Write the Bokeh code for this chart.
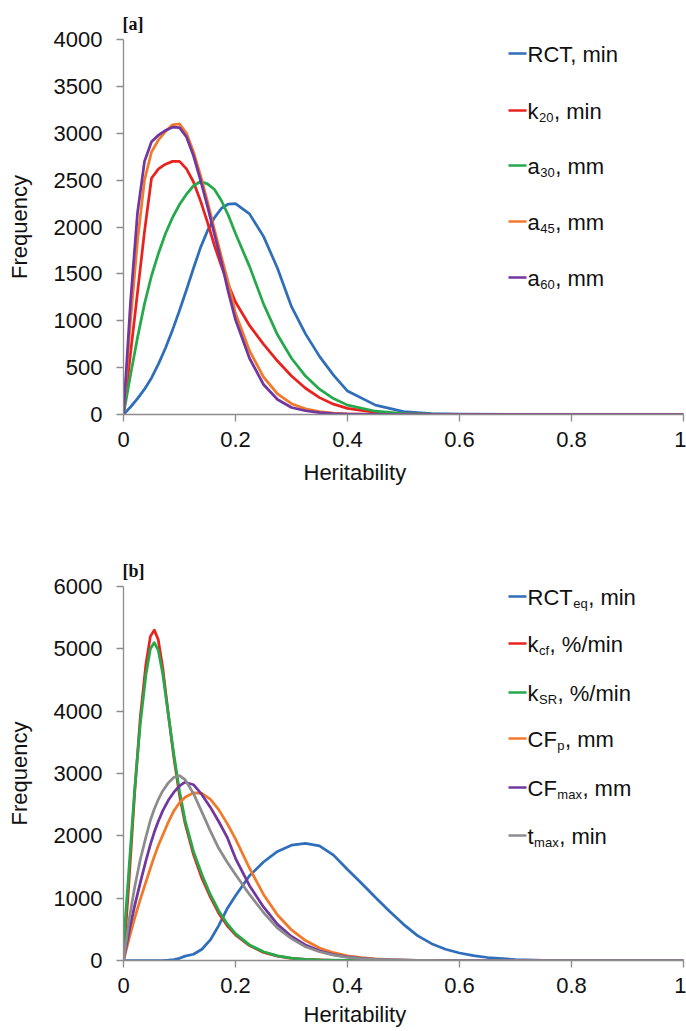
from bokeh.plotting import figure
from bokeh.models import Range1d, FixedTicker, CustomJSTickFormatter, Title, Label
from bokeh.layouts import column
from bokeh.embed import file_html
from bokeh.resources import INLINE

FONT = "Liberation Sans"

# ---------------- data: panel [a] ----------------
H_A = [0, 0.0125, 0.025, 0.0375, 0.05, 0.0625, 0.075, 0.0875, 0.1, 0.1125, 0.125, 0.1375,
       0.15, 0.1625, 0.175, 0.1875, 0.2, 0.225, 0.25, 0.275, 0.3, 0.325, 0.35, 0.375, 0.4,
       0.45, 0.5, 0.55, 0.6, 0.7, 0.8, 0.9, 1.0]
RCT = [0, 80, 170, 270, 390, 540, 710, 900, 1110, 1330, 1560, 1780,
       1960, 2100, 2200, 2245, 2250, 2140, 1900, 1560, 1150, 860, 620, 420, 250,
       100, 30, 10, 3, 0, 0, 0, 0]
K20 = [0, 650, 1300, 1950, 2520, 2620, 2670, 2700, 2700, 2620, 2480, 2280,
       2050, 1800, 1580, 1380, 1200, 950, 750, 570, 410, 280, 180, 110, 65,
       22, 6, 2, 0, 0, 0, 0, 0]
A30 = [0, 420, 820, 1180, 1480, 1720, 1930, 2100, 2240, 2350, 2440, 2485,
       2460, 2400, 2280, 2120, 1930, 1580, 1180, 850, 600, 410, 270, 170, 100,
       35, 10, 3, 0, 0, 0, 0, 0]
A45 = [0, 1000, 1850, 2500, 2800, 2930, 3020, 3090, 3100, 3000, 2800, 2550,
       2270, 1970, 1680, 1400, 1080, 680, 400, 220, 115, 60, 30, 15, 8,
       2, 0, 0, 0, 0, 0, 0, 0]
A60 = [0, 1200, 2150, 2700, 2910, 2980, 3030, 3065, 3060, 2960, 2760, 2500,
       2220, 1920, 1620, 1300, 1010, 600, 320, 160, 75, 40, 20, 10, 5,
       1, 0, 0, 0, 0, 0, 0, 0]

# ---------------- data: panel [b] ----------------
H_B = [0, 0.01, 0.02, 0.03, 0.04, 0.048, 0.055, 0.062, 0.07, 0.08, 0.09, 0.1, 0.11,
       0.125, 0.14, 0.155, 0.17, 0.185, 0.2, 0.225, 0.25, 0.275, 0.3, 0.325, 0.35,
       0.375, 0.4, 0.425, 0.45, 0.475, 0.5, 0.525, 0.55, 0.575, 0.6, 0.625, 0.65,
       0.7, 0.75, 0.8, 0.9, 1.0]
RCTEQ = [0, 0, 0, 0, 0, 0, 0, 0, 0, 5, 15, 35, 70,
         100, 180, 330, 560, 830, 1040, 1360, 1580, 1750, 1850, 1880, 1840,
         1690, 1460, 1240, 1010, 790, 580, 400, 270, 180, 120, 78, 48,
         14, 4, 1, 0, 0]
KCF = [0, 1300, 2700, 3900, 4750, 5200, 5300, 5150, 4700, 3950, 3250, 2650, 2200,
       1700, 1320, 1020, 760, 560, 410, 240, 130, 70, 35, 18, 9,
       4, 2, 0, 0, 0, 0, 0, 0, 0, 0, 0, 0,
       0, 0, 0, 0, 0]
KSR = [250, 1500, 2750, 3800, 4580, 5000, 5100, 4980, 4600, 3950, 3300, 2720, 2250,
       1750, 1380, 1060, 800, 590, 430, 250, 140, 75, 38, 20, 10,
       5, 2, 0, 0, 0, 0, 0, 0, 0, 0, 0, 0,
       0, 0, 0, 0, 0]
CFP = [0, 350, 680, 980, 1260, 1480, 1670, 1840, 2010, 2220, 2400, 2530, 2620,
       2690, 2680, 2590, 2420, 2200, 1950, 1480, 1060, 730, 490, 320, 200,
       125, 75, 45, 27, 15, 8, 4, 2, 1, 0, 0, 0,
       0, 0, 0, 0, 0]
CFMAX = [0, 470, 880, 1250, 1600, 1860, 2060, 2230, 2400, 2570, 2700, 2800, 2860,
         2820, 2660, 2460, 2230, 1980, 1640, 1200, 860, 580, 385, 250, 155,
         95, 57, 34, 20, 11, 6, 3, 1, 0, 0, 0, 0,
         0, 0, 0, 0, 0]
TMAX = [0, 650, 1180, 1620, 1980, 2250, 2430, 2580, 2720, 2850, 2940, 2965, 2900,
        2680, 2380, 2080, 1800, 1580, 1380, 1060, 770, 520, 350, 220, 140,
        85, 50, 30, 17, 9, 5, 2, 1, 0, 0, 0, 0,
        0, 0, 0, 0, 0]

X_TICKS = [0, 0.2, 0.4, 0.6, 0.8, 1.0]
Y_TICKS_A = [0, 500, 1000, 1500, 2000, 2500, 3000, 3500, 4000]
Y_TICKS_B = [0, 1000, 2000, 3000, 4000, 5000, 6000]

LEG_A = [("RCT, min", "", ""), ("k", "20", ", min"), ("a", "30", ", mm"),
         ("a", "45", ", mm"), ("a", "60", ", mm")]
LEG_B = [("RCT", "eq", ", min"), ("k", "cf", ", %/min"), ("k", "SR", ", %/min"),
         ("CF", "p", ", mm"), ("CF", "max", ", mm"), ("t", "max", ", min")]

BLUE, RED, GREEN, ORANGE, PURPLE, GRAY = "#2F6EBA", "#E8231F", "#25A94B", "#F07A2A", "#7236A0", "#8C8C8C"
COLORS_A = [BLUE, RED, GREEN, ORANGE, PURPLE]
COLORS_B = [BLUE, RED, GREEN, ORANGE, PURPLE, GRAY]

# character widths (Arial / Liberation Sans metrics, per 1000 em)
CW = {' ': 278, ',': 278, '%': 889, '/': 278, 'R': 722, 'C': 722, 'T': 611, 'F': 611,
      'S': 667, 'k': 500, 'a': 556, 'm': 833, 'i': 222, 'n': 556, 't': 278, 'e': 556,
      'q': 556, 'c': 500, 'f': 278, 'p': 556, 'x': 500}


def tw(s, size):
    return sum(CW.get(c, 556) for c in s) / 1000.0 * size


FS = 22
SUB = 13
AXIS_COL = "#8C8C8C"
TXT = "#111111"
W = 686
FRAME_L = 123
FRAME_R = 3
FRAME_W = W - FRAME_L - FRAME_R
BASE_OFF = -1.0      # main-text baseline offset from legend row
SUB_OFF = -6.5       # subscript baseline offset from legend row


def make_fig(height, top, bottom, ymax, yticks, tag, title_standoff):
    p = figure(width=W, height=height, output_backend="svg", toolbar_location=None,
               x_range=Range1d(0, 1), y_range=Range1d(0, ymax),
               min_border_left=FRAME_L, min_border_right=FRAME_R,
               min_border_top=top, min_border_bottom=bottom)
    p.outline_line_color = None
    p.xgrid.visible = False
    p.ygrid.visible = False
    p.background_fill_color = "white"
    p.border_fill_color = "white"
    for ax in (p.xaxis[0], p.yaxis[0]):
        ax.axis_line_color = AXIS_COL
        ax.axis_line_width = 1.3
        ax.major_tick_line_color = AXIS_COL
        ax.major_tick_line_width = 1.3
        ax.minor_tick_line_color = None
        ax.major_tick_in = 0
        ax.major_tick_out = 7
        ax.major_label_text_font = FONT
        ax.major_label_text_font_size = f"{FS}px"
        ax.major_label_text_color = TXT
    p.xaxis.ticker = FixedTicker(ticks=X_TICKS)
    p.xaxis.formatter = CustomJSTickFormatter(code="return String(Math.round(tick*10)/10);")
    p.xaxis.major_label_standoff = 10
    p.yaxis.ticker = FixedTicker(ticks=yticks)
    p.yaxis.major_label_standoff = 14
    p.yaxis.axis_label = "Frequency"
    p.yaxis.axis_label_text_font = FONT
    p.yaxis.axis_label_text_font_size = f"{FS}px"
    p.yaxis.axis_label_text_font_style = "normal"
    p.yaxis.axis_label_text_color = TXT
    p.yaxis.axis_label_standoff = 19
    p.add_layout(Title(text="Heritability", align="left", offset=180, standoff=title_standoff,
                       text_font=FONT, text_font_size=f"{FS}px", text_font_style="normal",
                       text_color=TXT), "below")
    p.add_layout(Title(text=tag, align="left", offset=-1, standoff=11,
                       text_font="Liberation Serif", text_font_size="18px",
                       text_font_style="bold", text_color=TXT), "above")
    return p


def add_legend(p, entries, colors, ys_px, ymax, frame_top, frame_h):
    # ys_px: legend row centres, figure pixels from the figure top
    for (main, sub, rest), col, yp in zip(entries, colors, ys_px):
        yd = ymax * (frame_top + frame_h - yp) / frame_h
        x0 = (508 - FRAME_L) / FRAME_W
        x1 = (526 - FRAME_L) / FRAME_W
        xt = (527 - FRAME_L) / FRAME_W
        p.segment(x0=[x0], y0=[yd], x1=[x1], y1=[yd], line_color=col, line_width=2.6)
        common = dict(text_font=FONT, text_color=TXT, text_baseline="alphabetic",
                      text_align="left")
        p.add_layout(Label(x=xt, y=yd, text=main, x_offset=0, y_offset=BASE_OFF,
                           text_font_size=f"{FS}px", **common))
        if sub:
            w = tw(main, FS)
            p.add_layout(Label(x=xt, y=yd, text=sub, x_offset=w + 0.5, y_offset=SUB_OFF,
                               text_font_size=f"{SUB}px", **common))
            w2 = w + 0.5 + tw(sub, SUB) + 0.5
            p.add_layout(Label(x=xt, y=yd, text=rest, x_offset=w2, y_offset=BASE_OFF,
                               text_font_size=f"{FS}px", **common))


# ---- panel a: page y 0..500, frame 39..414
pa = make_fig(500, 39, 86, 4000, Y_TICKS_A, "[a]", 16)
for ys, col in zip([RCT, K20, A30, A45, A60], COLORS_A):
    pa.line(H_A, ys, line_color=col, line_width=2.75, line_join="round")
add_legend(pa, LEG_A, COLORS_A, [53, 110, 165, 221, 277], 4000, 39, 375)

# ---- panel b: page y 500..1031, frame 586..960
pb = make_fig(531, 86, 71, 6000, Y_TICKS_B, "[b]", 9)
for ys, col in zip([RCTEQ, KCF, KSR, CFP, CFMAX, TMAX], COLORS_B):
    pb.line(H_B, ys, line_color=col, line_width=2.75, line_join="round")
add_legend(pb, LEG_B, COLORS_B, [y - 500 for y in [596, 643, 692, 738, 787, 835]],
           6000, 86, 374)

layout = column(pa, pb)
open("out.html", "w").write(file_html(layout, INLINE))
